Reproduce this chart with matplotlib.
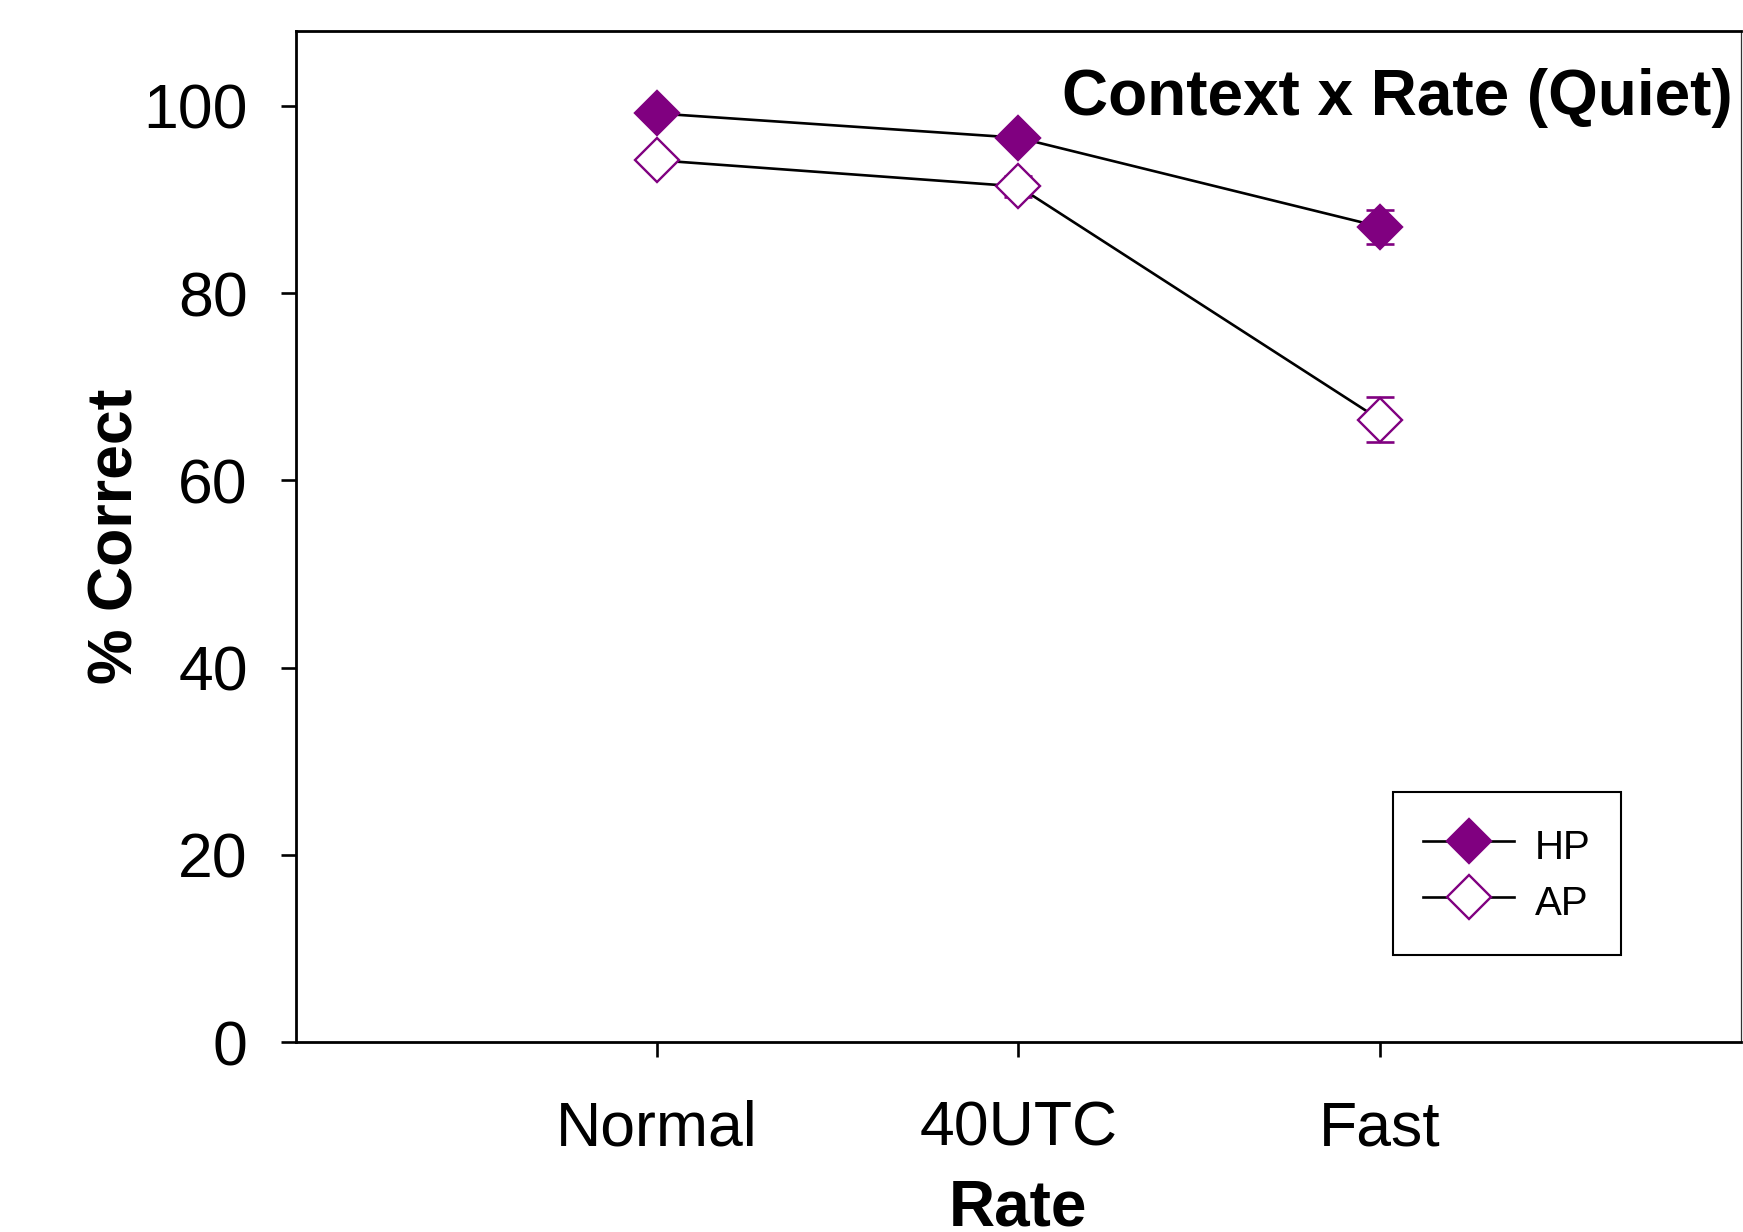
import matplotlib
matplotlib.use("Agg")
import matplotlib.pyplot as plt

# ---- data ----
categories = ["Normal", "40UTC", "Fast"]
hp_values = [99.2, 96.6, 87.1]
hp_err = [0.5, 0.5, 1.8]
ap_values = [94.2, 91.4, 66.5]
ap_err = [0.6, 1.1, 2.45]
series_labels = ["HP", "AP"]
yticks = [0, 20, 40, 60, 80, 100]
title_text = "Context x Rate (Quiet)"
xlabel_text = "Rate"
ylabel_text = "% Correct"

purple = "#800080"
plt.rcParams["font.family"] = ["Liberation Sans", "DejaVu Sans"]

fig = plt.figure(figsize=(17.43, 12.32), dpi=100)
ax = fig.add_axes([0.16965, 0.1542, 0.8292, 0.8206])

x = list(range(1, len(categories) + 1))

# error bars beneath markers
ax.errorbar(x, hp_values, yerr=hp_err, fmt="none", ecolor=purple,
            elinewidth=1.9, capsize=10.4, capthick=1.9, zorder=2)
ax.errorbar(x, ap_values, yerr=ap_err, fmt="none", ecolor=purple,
            elinewidth=1.9, capsize=10.4, capthick=1.9, zorder=2)

ax.plot(x, hp_values, color="black", lw=1.9, marker="D", ms=22,
        mfc=purple, mec=purple, mew=1.7, label=series_labels[0], zorder=3)
ax.plot(x, ap_values, color="black", lw=1.9, marker="D", ms=22,
        mfc="white", mec=purple, mew=1.7, label=series_labels[1], zorder=3)

ax.set_xlim(0, 4)
ax.set_ylim(0, 108)
ax.set_xticks(x)
ax.set_xticklabels(categories)
ax.set_yticks(yticks)

ax.tick_params(axis="both", direction="out", length=10.5, width=1.9,
               labelsize=45, colors="black")
ax.tick_params(axis="y", pad=24)
ax.tick_params(axis="x", pad=31)

for side in ["left", "top", "bottom"]:
    ax.spines[side].set_linewidth(2.0)
    ax.spines[side].set_color("black")
ax.spines["right"].set_linewidth(0.9)
ax.spines["right"].set_color("#333333")

ax.set_xlabel(xlabel_text, fontsize=46, fontweight="bold")
ax.xaxis.set_label_coords(0.5, -0.1345)
ax.set_ylabel(ylabel_text, fontsize=45, fontweight="bold")
ax.yaxis.set_label_coords(-0.1037, 0.5)

ax.text(0.9943, 0.9169, title_text, transform=ax.transAxes,
        ha="right", va="baseline", fontsize=46, fontweight="bold")

leg = ax.legend(loc="upper left", bbox_to_anchor=(0.759, 0.2476),
                fontsize=29, frameon=True, fancybox=False, framealpha=1,
                edgecolor="black", borderpad=0.76, labelspacing=0.26,
                handleheight=1.38,
                handlelength=2.25, handletextpad=0.52, borderaxespad=0)
leg.get_frame().set_linewidth(1.5)

fig.savefig("out.png", dpi=100)
